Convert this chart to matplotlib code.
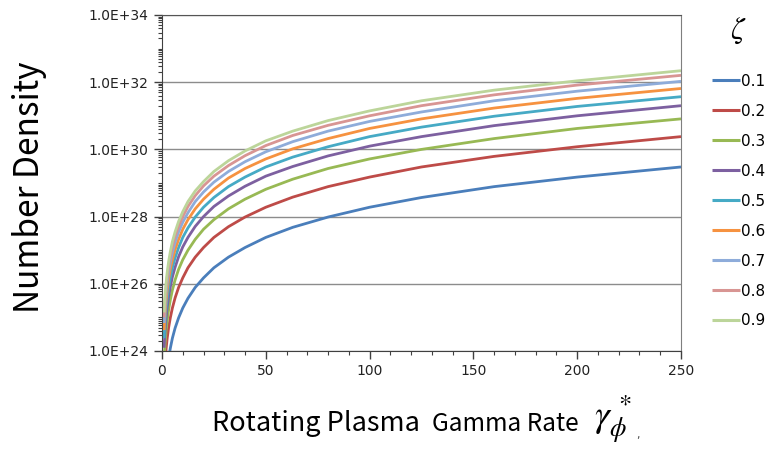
import matplotlib
matplotlib.use('Agg')
import matplotlib.pyplot as plt
from matplotlib.ticker import LogLocator, FixedLocator, MultipleLocator, NullFormatter

plt.rcParams['mathtext.fontset'] = 'stix'

# gamma rate (x) where the curves were read
gamma = [1, 1.25, 1.6, 2, 2.5, 3.2, 4, 5, 6.3, 8, 10, 12.5, 16, 20, 25, 32, 40, 50,
         63, 80, 100, 125, 160, 200, 250]

# number density, one list per xi
n_01 = [1.9e22, 3.7e22, 7.8e22, 1.5e23, 3.0e23, 6.2e23, 1.2e24, 2.4e24, 4.8e24, 9.7e24,
        1.9e25, 3.7e25, 7.8e25, 1.5e26, 3.0e26, 6.2e26, 1.2e27, 2.4e27, 4.8e27, 9.7e27,
        1.9e28, 3.7e28, 7.8e28, 1.5e29, 3.0e29]
n_02 = [1.5e23, 3.0e23, 6.2e23, 1.2e24, 2.4e24, 5.0e24, 9.7e24, 1.9e25, 3.8e25, 7.8e25,
        1.5e26, 3.0e26, 6.2e26, 1.2e27, 2.4e27, 5.0e27, 9.7e27, 1.9e28, 3.8e28, 7.8e28,
        1.5e29, 3.0e29, 6.2e29, 1.2e30, 2.4e30]
n_03 = [5.2e23, 1.0e24, 2.1e24, 4.2e24, 8.1e24, 1.7e25, 3.3e25, 6.5e25, 1.3e26, 2.7e26,
        5.2e26, 1.0e27, 2.1e27, 4.2e27, 8.1e27, 1.7e28, 3.3e28, 6.5e28, 1.3e29, 2.7e29,
        5.2e29, 1.0e30, 2.1e30, 4.2e30, 8.1e30]
n_04 = [1.25e24, 2.4e24, 5.1e24, 1.0e25, 2.0e25, 4.1e25, 8.0e25, 1.6e26, 3.1e26, 6.4e26,
        1.25e27, 2.4e27, 5.1e27, 1.0e28, 2.0e28, 4.1e28, 8.0e28, 1.6e29, 3.1e29, 6.4e29,
        1.25e30, 2.4e30, 5.1e30, 1.0e31, 2.0e31]
n_05 = [2.4e24, 4.6e24, 9.7e24, 1.9e25, 3.7e25, 7.8e25, 1.5e26, 3.0e26, 5.9e26, 1.2e27,
        2.4e27, 4.6e27, 9.7e27, 1.9e28, 3.7e28, 7.8e28, 1.5e29, 3.0e29, 5.9e29, 1.2e30,
        2.4e30, 4.6e30, 9.7e30, 1.9e31, 3.7e31]
n_06 = [4.2e24, 8.1e24, 1.7e25, 3.3e25, 6.5e25, 1.4e26, 2.7e26, 5.2e26, 1.04e27, 2.1e27,
        4.2e27, 8.1e27, 1.7e28, 3.3e28, 6.5e28, 1.4e29, 2.7e29, 5.2e29, 1.04e30, 2.1e30,
        4.2e30, 8.1e30, 1.7e31, 3.3e31, 6.5e31]
n_07 = [6.8e24, 1.3e25, 2.8e25, 5.4e25, 1.06e26, 2.2e26, 4.3e26, 8.5e26, 1.7e27, 3.5e27,
        6.8e27, 1.3e28, 2.8e28, 5.4e28, 1.06e29, 2.2e29, 4.3e29, 8.5e29, 1.7e30, 3.5e30,
        6.8e30, 1.3e31, 2.8e31, 5.4e31, 1.06e32]
n_08 = [1.0e25, 2.0e25, 4.2e25, 8.2e25, 1.6e26, 3.3e26, 6.5e26, 1.3e27, 2.6e27, 5.2e27,
        1.0e28, 2.0e28, 4.2e28, 8.2e28, 1.6e29, 3.3e29, 6.5e29, 1.3e30, 2.6e30, 5.2e30,
        1.0e31, 2.0e31, 4.2e31, 8.2e31, 1.6e32]
n_09 = [1.4e25, 2.8e25, 5.8e25, 1.1e26, 2.2e26, 4.6e26, 9.0e26, 1.8e27, 3.5e27, 7.2e27,
        1.4e28, 2.8e28, 5.8e28, 1.1e29, 2.2e29, 4.6e29, 9.0e29, 1.8e30, 3.5e30, 7.2e30,
        1.4e31, 2.8e31, 5.8e31, 1.1e32, 2.2e32]

xi_labels = ['0.1', '0.2', '0.3', '0.4', '0.5', '0.6', '0.7', '0.8', '0.9']
series = [n_01, n_02, n_03, n_04, n_05, n_06, n_07, n_08, n_09]
colors = ['#4A7EBB', '#BE4B48', '#98B954', '#7D60A0', '#46AAC5',
          '#F69240', '#8EACDA', '#D89593', '#BCD59A']

fig = plt.figure(figsize=(7.68, 4.55), dpi=100)
ax = fig.add_axes([162/768, 1 - 351/455, (681 - 162)/768, (351 - 15)/455])

for vals, col, lab in zip(series, colors, xi_labels):
    ax.plot(gamma, vals, color=col, lw=2.0, label=lab, solid_capstyle='butt')

ax.set_yscale('log')
ax.set_xlim(0, 250)
ax.set_ylim(1e24, 1e34)

# labels every two decades, minor ticks inside every decade
ax.yaxis.set_major_locator(FixedLocator([1e24, 1e26, 1e28, 1e30, 1e32, 1e34]))
ax.yaxis.set_minor_locator(LogLocator(base=10, subs=(1, 2, 3, 4, 5, 6, 7, 8, 9), numticks=40))
ax.yaxis.set_minor_formatter(NullFormatter())
ax.set_yticklabels(['1.0E+24', '1.0E+26', '1.0E+28', '1.0E+30', '1.0E+32', '1.0E+34'])
ax.xaxis.set_major_locator(MultipleLocator(50))
ax.xaxis.set_minor_locator(MultipleLocator(10))

ax.tick_params(axis='both', which='major', direction='out', length=6, width=1,
               color='#404040', labelsize=10, labelcolor='#222222')
ax.tick_params(axis='both', which='minor', direction='out', length=3, width=0.8, color='#404040')
ax.tick_params(axis='y', which='major', pad=4)
ax.grid(True, which='major', axis='y', color='#8c8c8c', lw=1)
for s in ax.spines.values():
    s.set_color('#7f7f7f')
ax.spines['left'].set_color('#404040')
ax.spines['bottom'].set_color('#404040')
ax.spines['top'].set_color('#555555')

# axis titles
lab_font = ['Noto Sans CJK JP', 'DejaVu Sans']
fig.text(30/768, 1 - 187/455, 'Number Density', rotation=90, fontsize=24,
         family=lab_font, ha='center', va='center')
fig.text(212/768, 1 - 431/455, 'Rotating Plasma', fontsize=19.5, family=lab_font,
         ha='left', va='baseline')
fig.text(432/768, 1 - 431/455, 'Gamma Rate', fontsize=17.5, family=lab_font,
         ha='left', va='baseline')
fig.text(594/768, 1 - 428/455, r'$\gamma^{\,*}_{\phi}$', fontsize=27,
         ha='left', va='baseline')
fig.text(636/768, 1 - 438/455, ',', fontsize=8, ha='left', va='baseline', color='#444444')

# legend, title placed on its own above the entries
fig.text(738/768, 1 - 31/455, r'$\zeta$', fontsize=22, ha='center', va='center')
leg = ax.legend(loc='upper left', bbox_to_anchor=(701/768, 1 - 63/455),
                bbox_transform=fig.transFigure, frameon=False,
                fontsize=11, handlelength=1.85, handletextpad=0.1, labelspacing=0.98,
                borderpad=0.2)
for line in leg.get_lines():
    line.set_linewidth(2.2)

fig.savefig('out.png', dpi=100)
